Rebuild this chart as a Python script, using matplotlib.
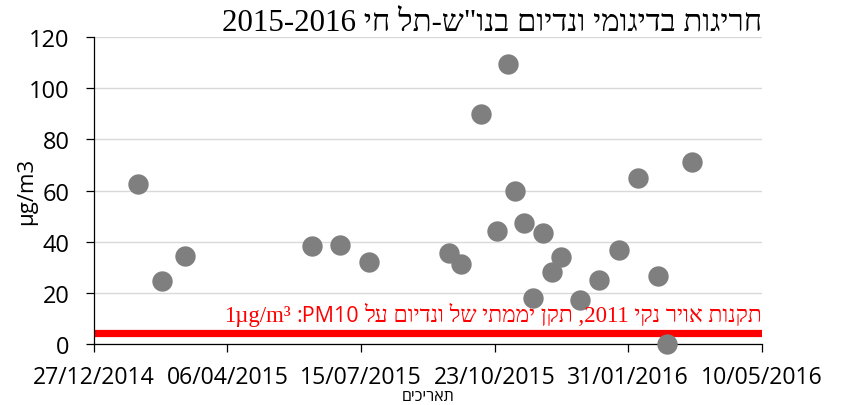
import pandas as pd
import matplotlib.pyplot as plt

# vanadium samples
dates = pd.to_datetime([
    "2015-01-29", "2015-02-16", "2015-03-05", "2015-06-08", "2015-06-29",
    "2015-07-21", "2015-09-19", "2015-09-28", "2015-10-13", "2015-10-25",
    "2015-11-02", "2015-11-07", "2015-11-14", "2015-11-21", "2015-11-28",
    "2015-12-05", "2015-12-12", "2015-12-26", "2016-01-09", "2016-01-24",
    "2016-02-07", "2016-02-22", "2016-02-29", "2016-03-19"])
vanadium = [62.4, 24.5, 34.5, 38.4, 38.7,
            31.9, 35.5, 31.1, 90.1, 44.1,
            109.3, 59.9, 47.3, 17.9, 43.5,
            28.1, 33.9, 17.1, 25.0, 36.7,
            65.0, 26.6, 0.0, 71.2]

tick_dates = pd.to_datetime(["2014-12-27", "2015-04-06", "2015-07-15",
                             "2015-10-23", "2016-01-31", "2016-05-10"])
tick_labels = ["27/12/2014", "06/04/2015", "15/07/2015",
               "23/10/2015", "31/01/2016", "10/05/2016"]
y_ticks = [0, 20, 40, 60, 80, 100, 120]
standard = 4.4

# hebrew strings in visual (left to right) order, matplotlib has no bidi
# logical: חריגות בדיגומי ונדיום בנו"ש-תל חי 2015-2016
title = '2015-2016 יח לת-ש"ונב םוידנו ימוגידב תוגירח'
# logical: תקנות אויר נקי 2011, תקן יממתי של ונדיום על PM10: 1µg/m³
note_heb = "לע םוידנו לש יתממי ןקת ,2011 יקנ ריוא תונקת"
note_pm = ":PM10"
note_unit = "1µg/m³"
# logical: תאריכים
xlabel = "םיכיראת"

sans = ["Open Sans", "DejaVu Sans"]
serif = ["Liberation Serif", "DejaVu Serif", "DejaVu Sans"]

fig = plt.figure(figsize=(8.44, 4.06), dpi=100)
ax = fig.add_axes([0.111, 0.1502, 0.7918, 0.7562])

ax.grid(axis="y", color="#d9d9d9", linewidth=1, zorder=0)
ax.set_axisbelow(True)

ax.axhline(standard, color="#ff0000", linewidth=5.2, zorder=2)
ax.scatter(dates, vanadium, s=215, color="#7f7f7f", linewidths=0,
           zorder=3, clip_on=False)

ax.set_xlim(tick_dates[0], tick_dates[-1])
ax.set_ylim(0, 120)
ax.set_xticks(tick_dates)
ax.set_xticklabels(tick_labels, family=sans, fontsize=16.6)
ax.set_yticks(y_ticks)
ax.set_yticklabels([str(v) for v in y_ticks], family=sans, fontsize=17)
ax.tick_params(axis="both", direction="out", length=5.5, width=0.9,
               color="black")
ax.tick_params(axis="y", pad=12)
ax.tick_params(axis="x", pad=9.5)

for side in ["top", "right"]:
    ax.spines[side].set_visible(False)
for side in ["left", "bottom"]:
    ax.spines[side].set_linewidth(0.9)
    ax.spines[side].set_color("black")

ax.set_ylabel("µg/m3", family=sans, fontsize=16)
ax.yaxis.set_label_coords(-0.085, 0.5)
fig.text(0.507, 0.002, xlabel, family=sans, fontsize=11.5,
         ha="center", va="bottom")

fig.text(0.903, 0.925, title, family=serif, fontsize=22.3,
         ha="right", va="baseline")

# red note over the standard line, built right to left
t_heb = ax.text(tick_dates[-1], 9.0, note_heb, family=serif, fontsize=16.5,
                color="#ff0000", ha="right", va="baseline", zorder=4)
t_pm = ax.annotate(note_pm, xy=(0, 0), xycoords=t_heb, xytext=(-4, 0),
                   textcoords="offset points", family=sans, fontsize=15.5,
                   color="#ff0000", ha="right", va="bottom", zorder=4)
ax.annotate(note_unit, xy=(0, 0), xycoords=t_pm, xytext=(-4, 0),
            textcoords="offset points", family=serif, fontsize=16.5,
            color="#ff0000", ha="right", va="bottom", zorder=4)

fig.savefig("out.png", dpi=100)
